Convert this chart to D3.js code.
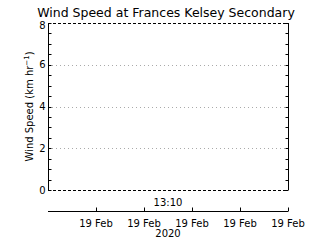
<!DOCTYPE html>
<html>
<head>
<meta charset="utf-8">
<script src="https://cdn.jsdelivr.net/npm/d3@7"></script>
<style>
body { margin: 0; background: #fff; }
text { font-family: "DejaVu Sans", sans-serif; fill: #000; }
</style>
</head>
<body>
<svg id="chart" width="320" height="240"></svg>
<script>
var title = "Wind Speed at Frances Kelsey Secondary"
var yTicks = [0, 2, 4, 6, 8]
var yMinor = d3.range(0, 8.01, 0.5)
var xSlots = [0, 1, 2, 3, 4, 5]
var xTicks = [1, 2, 3, 4, 5]
var xLabels = ["19 Feb", "19 Feb", "19 Feb", "19 Feb", "19 Feb"]
var timeLabel = "13:10"
var yearLabel = "2020"
var windValues = []   // no data in the period

var svg = d3.select("#chart")
var pLeft = 48, pRight = 288, pTop = 23, pBottom = 190

var x = d3.scaleLinear().domain([xSlots[0], xSlots[xSlots.length-1]]).range([pLeft, pRight])
var y = d3.scaleLinear().domain([0, 8]).range([pBottom, pTop])

// grid lines
svg.selectAll(".grid").data(yTicks.filter(v => v > 0 && v < 8)).enter()
  .append("line")
  .attr("x1", pLeft).attr("x2", pRight)
  .attr("y1", d => Math.round(y(d)) + 0.5).attr("y2", d => Math.round(y(d)) + 0.5)
  .attr("stroke", "#aaa").attr("stroke-dasharray", "1,3")

// top and bottom dashed lines
svg.selectAll(".dash").data([0, 8]).enter()
  .append("line")
  .attr("x1", pLeft).attr("x2", pRight)
  .attr("y1", d => Math.round(y(d)) + 0.5).attr("y2", d => Math.round(y(d)) + 0.5)
  .attr("stroke", "#000").attr("stroke-dasharray", "3,2")

// left axis
var yl = svg.append("g").attr("transform", "translate(" + (pLeft + 0.5) + ",0)")
yl.append("line").attr("y1", pTop).attr("y2", pBottom).attr("stroke", "#000")
yl.selectAll(".mt").data(yMinor).enter().append("line")
  .attr("x1", 0).attr("x2", 3)
  .attr("y1", d => Math.round(y(d)) + 0.5).attr("y2", d => Math.round(y(d)) + 0.5)
  .attr("stroke", "#000")
yl.selectAll(".lb").data(yTicks).enter().append("text")
  .attr("x", -3).attr("y", d => Math.max(y(d) + 3.5, pTop + 6))
  .attr("text-anchor", "end").attr("font-size", 10)
  .text(d => d)

// right axis
var yr = svg.append("g").attr("transform", "translate(" + (pRight + 0.5) + ",0)")
yr.append("line").attr("y1", pTop).attr("y2", pBottom).attr("stroke", "#000")
yr.selectAll(".mt").data(yMinor).enter().append("line")
  .attr("x1", 0).attr("x2", -3)
  .attr("y1", d => Math.round(y(d)) + 0.5).attr("y2", d => Math.round(y(d)) + 0.5)
  .attr("stroke", "#000")

// data line (empty)
svg.append("path").datum(windValues)
  .attr("fill", "none").attr("stroke", "#00f")
  .attr("d", d3.line().x(d => x(d[0])).y(d => y(d[1])))

// bottom time axis
var xa = svg.append("g").attr("transform", "translate(0,211.5)")
xa.append("line").attr("x1", pLeft).attr("x2", pRight).attr("stroke", "#000")
xa.selectAll(".tk").data(xTicks).enter().append("line")
  .attr("x1", d => Math.round(x(d)) + 0.5).attr("x2", d => Math.round(x(d)) + 0.5)
  .attr("y1", 0).attr("y2", -4).attr("stroke", "#000")
xa.selectAll(".lb").data(xTicks).enter().append("text")
  .attr("x", d => x(d)).attr("y", 15)
  .attr("text-anchor", "middle").attr("font-size", 10)
  .text((d, i) => xLabels[i])

svg.append("text").attr("x", 168).attr("y", 237)
  .attr("text-anchor", "middle").attr("font-size", 10).text(yearLabel)
svg.append("text").attr("x", 168).attr("y", 206)
  .attr("text-anchor", "middle").attr("font-size", 10).text(timeLabel)

// title
svg.append("text").attr("x", 166).attr("y", 16.5)
  .attr("text-anchor", "middle").attr("font-size", 12.5).text(title)

// y label
var yt = svg.append("text")
  .attr("transform", "translate(33," + ((pTop + pBottom) / 2) + ") rotate(-90)")
  .attr("text-anchor", "middle").attr("font-size", 10)
yt.append("tspan").text("Wind Speed (km hr")
yt.append("tspan").attr("dy", -4).attr("font-size", 7).text("\u22121")
yt.append("tspan").attr("dy", 4).text(")")
</script>
</body>
</html>
